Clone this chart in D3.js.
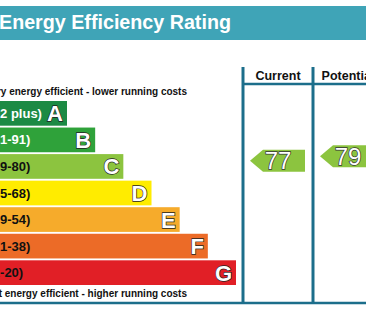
<!DOCTYPE html>
<html>
<head>
<meta charset="utf-8">
<script src="https://cdn.jsdelivr.net/npm/d3@7"></script>
<style>
  body { margin: 0; background: #fff; }
  svg { display: block; font-family: "Liberation Sans", Arial, sans-serif; }
</style>
</head>
<body>
<svg id="epc" width="366" height="311"></svg>
<script>
const bands = ['A', 'B', 'C', 'D', 'E', 'F', 'G'];
const ranges = ['(92 plus)', '(81-91)', '(69-80)', '(55-68)', '(39-54)', '(21-38)', '(1-20)'];
const colors = ['#1c8a44', '#2fa23a', '#8cc43f', '#ffec00', '#f6ab2b', '#ec6b27', '#e11f26'];
const rangeLow = [92, 81, 69, 55, 39, 21, 1];
const rangeHigh = [100, 91, 80, 68, 54, 38, 20];
const columns = ['Current', 'Potential'];
const ratings = [77, 79];

const line = '#1c6e8b';
const svg = d3.select('#epc');

// title strip
svg.append('rect').attr('x', 0).attr('y', 6).attr('width', 366).attr('height', 34).attr('fill', '#3fa4b7');
const title = svg.append('text').attr('x', -1).attr('y', 29)
  .attr('font-size', 21).attr('font-weight', 'bold').attr('fill', '#fff')
  .text('Energy Efficiency Rating');
// fit the title to the width it has in the picture
const tw = title.node().getComputedTextLength();
title.attr('font-size', 21 * 232 / tw);

const y = d3.scaleBand().domain(bands).range([101, 285]).paddingInner(0.07);
const right = d3.scaleLinear().domain([0, 6]).range([67, 236]);

const rows = svg.selectAll('g.band').data(bands).enter().append('g').attr('class', 'band');
rows.append('rect')
  .attr('x', 0)
  .attr('y', d => y(d))
  .attr('width', (d, i) => right(i))
  .attr('height', y.bandwidth())
  .attr('fill', (d, i) => colors[i]);
rows.append('text')
  .attr('x', -11.5)
  .attr('y', d => y(d) + y.bandwidth() / 2 + 4.5)
  .attr('font-size', 13).attr('font-weight', 'bold')
  .attr('fill', (d, i) => i < 2 ? '#fff' : '#111')
  .text((d, i) => ranges[i]);
rows.append('text')
  .attr('x', (d, i) => right(i) - 4)
  .attr('y', d => y(d) + y.bandwidth() / 2 + 8)
  .attr('text-anchor', 'end')
  .attr('font-size', 22).attr('font-weight', 'bold')
  .attr('fill', '#fff').attr('stroke', '#222').attr('stroke-width', 1.3)
  .style('paint-order', 'stroke')
  .text(d => d);

svg.append('text').attr('x', 187).attr('y', 95).attr('text-anchor', 'end')
  .attr('font-size', 10).attr('font-weight', 'bold').attr('fill', '#111')
  .text('Very energy efficient - lower running costs');
svg.append('text').attr('x', 187).attr('y', 297).attr('text-anchor', 'end')
  .attr('font-size', 10).attr('font-weight', 'bold').attr('fill', '#111')
  .text('Not energy efficient - higher running costs');

// columns
const colX = d3.scaleOrdinal().domain(columns).range([243, 313]);
const colW = 70;

svg.append('line').attr('x1', 243).attr('x2', 366).attr('y1', 84).attr('y2', 84)
  .attr('stroke', line).attr('stroke-width', 2.5);
svg.append('line').attr('x1', 0).attr('x2', 366).attr('y1', 303).attr('y2', 303)
  .attr('stroke', line).attr('stroke-width', 2.5);
svg.selectAll('line.col').data(columns).enter().append('line').attr('class', 'col')
  .attr('x1', d => colX(d)).attr('x2', d => colX(d))
  .attr('y1', 67).attr('y2', 304)
  .attr('stroke', line).attr('stroke-width', 3);
svg.selectAll('text.col').data(columns).enter().append('text').attr('class', 'col')
  .attr('x', d => colX(d) + colW / 2).attr('y', 80).attr('text-anchor', 'middle')
  .attr('font-size', 12.5).attr('font-weight', 'bold').attr('fill', '#111')
  .text(d => d);

// rating arrows
function ratingY(v) {
  const i = rangeLow.findIndex(lo => v >= lo);
  const s = d3.scaleLinear().domain([rangeHigh[i], rangeLow[i]]).range([y(bands[i]), y(bands[i]) + y.bandwidth()]);
  return s(v);
}
function bandColor(v) {
  return colors[rangeLow.findIndex(lo => v >= lo)];
}

const arrows = svg.selectAll('g.arrow').data(ratings).enter().append('g').attr('class', 'arrow');
arrows.append('path')
  .attr('d', (v, i) => {
    const x0 = colX(columns[i]);
    const cy = ratingY(v);
    const h = 11;
    return `M${x0 + 7},${cy} L${x0 + 20},${cy - h} L${x0 + 62},${cy - h} L${x0 + 62},${cy + h} L${x0 + 20},${cy + h} Z`;
  })
  .attr('fill', v => bandColor(v));
arrows.append('text')
  .attr('x', (v, i) => colX(columns[i]) + 35)
  .attr('y', v => ratingY(v) + 8.5)
  .attr('text-anchor', 'middle')
  .attr('font-size', 24)
  .attr('fill', '#fff').attr('stroke', '#333').attr('stroke-width', 1.4)
  .style('paint-order', 'stroke')
  .text(v => v);
</script>
</body>
</html>
